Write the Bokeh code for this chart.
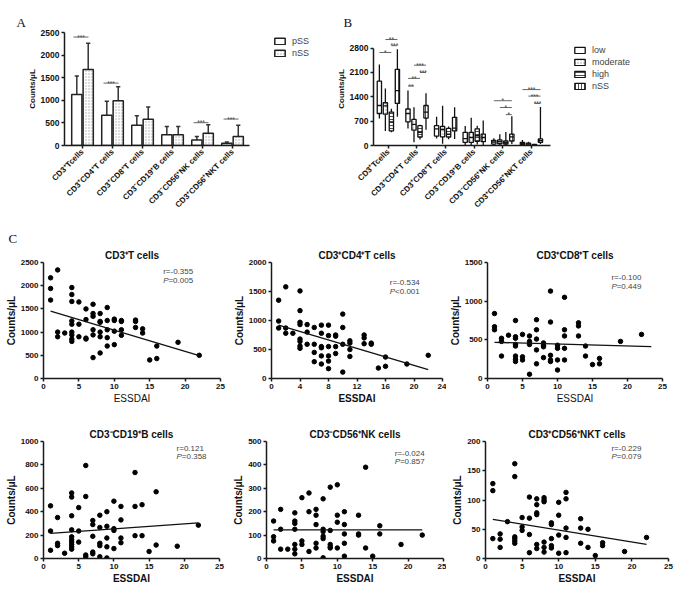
import math
from bokeh.plotting import figure
from bokeh.models import ColumnDataSource, FixedTicker, Label, Legend, LegendItem, Range1d, Title
from bokeh.layouts import column, row
from bokeh.embed import file_html
from bokeh.resources import INLINE

FONT = "Liberation Sans"
SERIF = "Liberation Serif"

# ---------------- data ----------------
cell_types = ["CD3⁺Tcells", "CD3⁺CD4⁺T cells", "CD3⁺CD8⁺T cells",
              "CD3⁻CD19⁺B cells", "CD3⁻CD56⁺NK cells", "CD3⁺CD56⁺NKT cells"]
cat_pos = [1, 2, 3, 4, 5, 6]

# Panel A (mean and top of error bar)
a_pss_mean = [1130, 670, 450, 240, 120, 50]
a_pss_top = [1540, 980, 660, 420, 200, 80]
a_nss_mean = [1680, 990, 580, 240, 270, 200]
a_nss_top = [2260, 1300, 850, 420, 460, 450]
a_sig_cat = [1, 2, 5, 6]
a_sig_y = [2400, 1380, 505, 585]
a_sig_label = ["***", "***", "***", "***"]

# Panel B box plots (lower whisker, q1, median, q3, upper whisker)
b_groups = ["low", "moderate", "high", "nSS"]
b_low = dict(lo=[780, 490, 200, 0, 5, 10], q1=[920, 680, 270, 90, 40, 25],
             med=[1150, 920, 480, 200, 100, 50], q3=[1850, 1050, 570, 380, 150, 90],
             hi=[2330, 1580, 830, 560, 210, 160])
b_moderate = dict(lo=[420, 90, 50, 0, 0, 5], q1=[900, 440, 250, 90, 50, 20],
                  med=[1140, 610, 460, 230, 110, 45], q3=[1230, 750, 550, 380, 160, 70],
                  hi=[1640, 1100, 1140, 800, 320, 110])
b_high = dict(lo=[380, 175, 180, 30, 10, 5], q1=[420, 245, 245, 120, 40, 10],
              med=[680, 380, 330, 280, 80, 20], q3=[960, 570, 490, 480, 130, 30],
              hi=[1060, 600, 550, 570, 390, 40])
b_nss = dict(lo=[830, 450, 190, 0, 40, 40], q1=[1210, 790, 420, 110, 130, 90],
             med=[1580, 960, 500, 230, 250, 140], q3=[2190, 1150, 810, 330, 330, 190],
             hi=[2770, 1500, 1100, 720, 840, 1110])
b_sig_cat = [1, 1, 1, 2, 2, 2, 2, 5, 5, 5, 6, 6, 6]
b_sig_from = [0, 1, 2, 0, 0, 1, 2, 0, 1, 2, 0, 1, 2]
b_sig_to = [2, 3, 3, 2, 1, 3, 3, 3, 3, 3, 3, 3, 3]
b_sig_y = [2675, 3048, 2872, 1930, 1710, 2310, 2100, 1288, 1093, 888, 1608, 1421, 1208]
b_sig_label = ["*", "**", "***", "**", "**", "***", "***", "*", "*", "*", "***", "***", "***"]

# Panel C scatter data: ESSDAI -> counts/uL
c_cd3 = {1: [2170, 1940, 1690], 2: [2340, 1000, 900], 3: [980],
         4: [1960, 1810, 1660, 1240, 1170, 1000, 940, 850, 800], 5: [1650, 1170, 900],
         6: [1500, 1270, 870, 850], 7: [1600, 1400, 1340, 1050, 940, 450],
         8: [1400, 1230, 1210, 1000, 900, 550], 9: [1530, 1250, 1050, 880, 700],
         10: [1280, 1250, 1020, 730], 11: [1250, 1230, 1050, 930], 13: [1260, 1230, 1100],
         14: [1070, 980], 15: [400], 16: [700, 430], 19: [780], 22: [500]}
c_cd4 = {1: [1350, 990, 870], 2: [1580, 870, 780], 3: [780],
         4: [1510, 1170, 970, 930, 680, 640, 560, 520], 5: [930, 800, 590],
         6: [880, 590, 450, 290], 7: [920, 780, 550, 530, 390, 250],
         8: [920, 740, 550, 390, 300, 170], 9: [750, 730, 550, 430],
         10: [1110, 880, 590, 110], 11: [650, 610, 500, 380], 13: [750, 700, 600],
         14: [610, 590], 15: [180], 16: [370, 210], 19: [250], 22: [400]}
c_cd8 = {1: [840, 670, 630], 2: [520, 480, 290], 3: [560],
         4: [750, 540, 520, 440, 420, 290, 250, 220], 5: [570, 280, 240],
         6: [550, 480, 440, 55], 7: [760, 630, 510, 370, 190], 8: [460, 430, 410, 270],
         9: [1130, 730, 300, 240, 220], 10: [430, 390, 240, 110],
         11: [1050, 630, 550, 390, 240], 13: [720, 680, 550], 14: [420, 290], 15: [180],
         16: [260, 190], 19: [480], 22: [570]}
c_cd19 = {1: [450, 235, 70], 2: [350, 130, 110], 3: [45],
          4: [560, 525, 365, 245, 185, 160, 140, 120, 100, 80], 5: [435, 235, 140],
          6: [795, 530, 30, 15], 7: [325, 290, 190, 55, 40], 8: [370, 265, 130, 110, 15],
          9: [400, 275, 175, 100, 5], 10: [490, 255, 240, 85], 11: [445, 330, 175, 135],
          13: [735, 445, 195], 14: [460, 195], 15: [60], 16: [570, 115], 19: [105], 22: [285]}
c_nk = {1: [160, 93, 75], 2: [210, 125, 40], 3: [40], 4: [195, 160, 150, 125, 60, 40, 20],
        5: [260, 75, 60], 6: [280, 200, 30], 7: [210, 185, 145, 65, 45],
        8: [255, 125, 115, 95, 85, 3], 9: [305, 120, 60, 50, 45], 10: [315, 185, 155, 45],
        11: [200, 145, 105, 65, 10], 13: [185, 105, 100], 14: [390, 45], 15: [10],
        16: [140, 105], 19: [60], 22: [100]}
c_nkt = {1: [128, 116, 34], 2: [42, 33, 19], 3: [63], 4: [162, 140, 37, 34, 30, 26],
         5: [70, 54, 48], 6: [105, 69, 41, 10], 7: [102, 92, 78, 75, 24, 17],
         8: [104, 100, 97, 28, 19, 11], 9: [61, 58, 34, 22, 18], 10: [96, 74, 40, 9],
         11: [113, 102, 52, 36, 10], 13: [68, 52, 26], 14: [50, 19], 15: [5], 16: [27, 22],
         19: [12], 22: [36]}
# regression line end points (ESSDAI, counts)
fit_cd3 = ([1, 22], [1450, 495])
fit_cd4 = ([1, 22], [920, 155])
fit_cd8 = ([1, 23.4], [468, 413])
fit_cd19 = ([1, 22], [215, 305])
fit_nk = ([1, 22], [122, 122])
fit_nkt = ([1, 22], [67, 24])
stats_r = ["r=-0.355", "r=-0.534", "r=-0.100", "r=0.121", "r=-0.024", "r=-0.229"]
stats_p = ["=0.005", "<0.001", "=0.449", "=0.358", "=0.857", "=0.079"]


def style_axes(p, tick_size="8px", label_size="10px", label_bold=True):
    for ax in (p.xaxis[0], p.yaxis[0]):
        ax.axis_line_width = 1.5
        ax.axis_line_color = "#1a1a1a"
        ax.major_tick_line_color = "#1a1a1a"
        ax.major_tick_line_width = 1.5
        ax.major_tick_out = 3
        ax.major_tick_in = 0
        ax.minor_tick_line_color = None
        ax.major_label_text_font = FONT
        ax.major_label_text_font_style = "bold"
        ax.major_label_text_font_size = tick_size
        ax.major_label_text_color = "#111111"
        ax.major_label_standoff = 2
        ax.axis_label_text_font = FONT
        ax.axis_label_text_font_style = "bold" if label_bold else "normal"
        ax.axis_label_text_font_size = label_size
        ax.axis_label_text_color = "#111111"
        ax.axis_label_standoff = 1
    p.grid.visible = False
    p.outline_line_color = None


def base_fig(w, h, xr, yr, lb, rb, tb, bb):
    return figure(width=w, height=h, x_range=Range1d(*xr), y_range=Range1d(*yr),
                  min_border_left=lb, min_border_right=rb, min_border_top=tb,
                  min_border_bottom=bb, output_backend="svg", toolbar_location=None)


def letter_title(t, txt, offset, standoff, valign="bottom"):
    t.text = txt
    t.align = "left"
    t.vertical_align = valign
    t.offset = offset
    t.standoff = standoff
    t.text_font = SERIF
    t.text_font_size = "13px"
    t.text_font_style = "normal"
    t.text_color = "#111111"


# ---------------- Panel A ----------------
pA = base_fig(330, 222, (0.4, 9.13), (0, 2500), 64, 4, 32, 77)
style_axes(pA, tick_size="8.5px", label_size="8px")
pA.yaxis.axis_label = "Counts/μL"
pA.yaxis.ticker = FixedTicker(ticks=[0, 500, 1000, 1500, 2000, 2500])
pA.yaxis.bounds = (0, 2500)
pA.xaxis.ticker = FixedTicker(ticks=cat_pos)
pA.xaxis.bounds = (0.4, 6.55)
pA.xaxis.major_label_overrides = {c: n for c, n in zip(cat_pos, cell_types)}
pA.xaxis.major_label_orientation = math.pi / 4
pA.xaxis.major_label_text_font_size = "8px"

for mean, top, off, hatch, name in [(a_pss_mean, a_pss_top, -0.19, None, "pSS"),
                                    (a_nss_mean, a_nss_top, 0.19, ".", "nSS")]:
    xs = [c + off for c in cat_pos]
    src = ColumnDataSource(dict(x=xs, m=mean, t=top,
                                cl=[x - 0.07 for x in xs], cr=[x + 0.07 for x in xs]))
    pA.segment(x0="x", y0="m", x1="x", y1="t", source=src, line_color="#333333", line_width=1.5)
    pA.segment(x0="cl", y0="t", x1="cr", y1="t", source=src, line_color="#333333", line_width=1.5)
    kw = dict(hatch_pattern=hatch, hatch_color="#aaaaaa", hatch_scale=3, hatch_weight=1) if hatch else {}
    r = pA.vbar(x="x", top="m", bottom=0, width=0.34, source=src, fill_color="white",
                line_color="#222222", line_width=1.5, **kw)
    if name == "pSS":
        r_pss = r
    else:
        r_nss = r

sig_src = ColumnDataSource(dict(x0=[c - 0.3 for c in a_sig_cat], x1=[c + 0.2 for c in a_sig_cat],
                                xm=[c - 0.05 for c in a_sig_cat], y=a_sig_y, t=a_sig_label))
pA.segment(x0="x0", y0="y", x1="x1", y1="y", source=sig_src, line_color="#666666", line_width=1)
pA.text(x="xm", y="y", text="t", source=sig_src, text_font_size="6.5px", text_align="center",
        text_baseline="middle", text_color="#444444")

legA = Legend(items=[LegendItem(label="pSS", renderers=[r_pss]),
                     LegendItem(label="nSS", renderers=[r_nss])],
              location=(209, 87), glyph_width=13, glyph_height=8, label_height=10,
              spacing=2, padding=0, margin=0, border_line_color=None,
              background_fill_alpha=0, label_text_font_size="9px", label_standoff=6,
              label_text_font=FONT)
pA.add_layout(legA)
letter_title(pA.title, "A", -48, 2, valign="top")

# ---------------- Panel B ----------------
pB = base_fig(346, 222, (0.48, 10.93), (0, 3250), 43, 4, 24, 76)
style_axes(pB, tick_size="8.5px", label_size="8px")
pB.yaxis.axis_label = "Counts/μL"
pB.yaxis.ticker = FixedTicker(ticks=[0, 700, 1400, 2100, 2800])
pB.yaxis.bounds = (0, 2800)
pB.xaxis.ticker = FixedTicker(ticks=cat_pos)
pB.xaxis.bounds = (0.48, 6.66)
pB.xaxis.major_label_overrides = {c: n for c, n in zip(cat_pos, cell_types)}
pB.xaxis.major_label_orientation = math.pi / 4
pB.xaxis.major_label_text_font_size = "8px"

b_offsets = [-0.315, -0.105, 0.105, 0.315]
b_hatch = [None, ".", "-", "|"]
b_hatch_color = [None, "#999999", "#222222", "#222222"]
bw = 0.15
b_rends = []
for gi, d in enumerate([b_low, b_moderate, b_high, b_nss]):
    xs = [c + b_offsets[gi] for c in cat_pos]
    src = ColumnDataSource(dict(x=xs, xl=[x - bw / 2 for x in xs], xr=[x + bw / 2 for x in xs], **d))
    pB.segment(x0="x", y0="lo", x1="x", y1="q1", source=src, line_color="#111111", line_width=1.3)
    pB.segment(x0="x", y0="q3", x1="x", y1="hi", source=src, line_color="#111111", line_width=1.3)
    kw = dict(hatch_pattern=b_hatch[gi], hatch_color=b_hatch_color[gi], hatch_scale=3,
              hatch_weight=0.8) if b_hatch[gi] else {}
    r = pB.vbar(x="x", bottom="q1", top="q3", width=bw, source=src, fill_color="white",
                line_color="#111111", line_width=1.3, **kw)
    pB.segment(x0="xl", y0="med", x1="xr", y1="med", source=src, line_color="#111111", line_width=1.3)
    b_rends.append(r)

bsig = ColumnDataSource(dict(
    x0=[c + b_offsets[f] for c, f in zip(b_sig_cat, b_sig_from)],
    x1=[c + b_offsets[t] for c, t in zip(b_sig_cat, b_sig_to)],
    xm=[c + (b_offsets[f] + b_offsets[t]) / 2 for c, f, t in zip(b_sig_cat, b_sig_from, b_sig_to)],
    y=b_sig_y, t=b_sig_label))
pB.segment(x0="x0", y0="y", x1="x1", y1="y", source=bsig, line_color="#666666", line_width=1)
pB.text(x="xm", y="y", text="t", source=bsig, text_font_size="6.5px", text_align="center",
        text_baseline="middle", text_color="#444444")

legB = Legend(items=[LegendItem(label=g, renderers=[r]) for g, r in zip(b_groups, b_rends)],
              location=(200, 54), glyph_width=13, glyph_height=8, label_height=10,
              spacing=2, padding=0, margin=0, border_line_color=None,
              background_fill_alpha=0, label_text_font_size="9px", label_standoff=6,
              label_text_font=FONT)
pB.add_layout(legB)
letter_title(pB.title, "B", -30, 2, valign="top")


# ---------------- Panel C ----------------
def scatter_panel(w, h, lb, rb, tb, bb, title, cols, ymax, ystep, xmax, xstep, fit,
                  r_txt, p_txt, tx, ty, xlab_bold, letter=None):
    p = base_fig(w, h, (0, xmax), (0, ymax), lb, rb, tb, bb)
    style_axes(p, tick_size="8px", label_size="10px")
    p.xaxis.axis_label = "ESSDAI"
    p.xaxis.axis_label_text_font_style = "bold" if xlab_bold else "normal"
    p.yaxis.axis_label = "Counts/μL"
    p.xaxis.ticker = FixedTicker(ticks=list(range(0, xmax + 1, xstep)))
    p.yaxis.ticker = FixedTicker(ticks=list(range(0, ymax + 1, ystep)))
    if letter is None:
        t = p.title
        t.text = title
    else:
        letter_title(p.title, letter, -35, 1)
        t = Title(text=title)
        p.add_layout(t, "above")
    t.align = "center"
    t.text_font = FONT
    t.text_font_size = "10px"
    t.text_font_style = "bold"
    t.text_color = "#111111"
    t.standoff = 3
    xs = [x for x, ys in cols.items() for _ in ys]
    ys = [y for ys in cols.values() for y in ys]
    p.scatter(xs, ys, size=4.5, fill_color="black", line_color="black")
    p.line(fit[0], fit[1], line_color="#111111", line_width=1.3)
    p.add_layout(Label(x=tx, y=ty[0], text=r_txt, text_font=FONT, text_font_size="8px",
                       text_color="#444444", text_baseline="middle"))
    p.add_layout(Label(x=tx, y=ty[1], text="P", text_font=FONT, text_font_size="8px",
                       text_font_style="italic", text_color="#444444", text_baseline="middle"))
    p.add_layout(Label(x=tx, y=ty[1], x_offset=5.3, text=p_txt, text_font=FONT,
                       text_font_size="8px", text_color="#444444", text_baseline="middle"))
    return p


c1 = scatter_panel(230, 184, 43, 10, 40, 27, "CD3⁺T cells", c_cd3, 2500, 500, 25, 5, fit_cd3,
                   stats_r[0], stats_p[0], 16.9, (2310, 2120), False, letter="C")
c2 = scatter_panel(216, 184, 37, 4, 40, 27, "CD3⁺CD4⁺T cells", c_cd4, 2000, 500, 24, 4, fit_cd4,
                   stats_r[1], stats_p[1], 16.6, (1650, 1500), True)
c3 = scatter_panel(230, 184, 38, 14, 40, 27, "CD3⁺CD8⁺T cells", c_cd8, 1500, 500, 25, 5, fit_cd8,
                   stats_r[2], stats_p[2], 17.7, (1310, 1195), False)
c4 = scatter_panel(230, 188, 43, 11, 35, 36, "CD3⁻CD19⁺B cells", c_cd19, 1000, 200, 25, 5, fit_cd19,
                   stats_r[3], stats_p[3], 18.9, (940, 870), True)
c5 = scatter_panel(216, 188, 36, 3, 35, 36, "CD3⁻CD56⁺NK cells", c_nk, 500, 100, 25, 5, fit_nk,
                   stats_r[4], stats_p[4], 18.1, (449, 415), True)
c6 = scatter_panel(230, 188, 39, 8, 35, 36, "CD3⁺CD56⁺NKT cells", c_nkt, 200, 50, 25, 5, fit_nkt,
                   stats_r[5], stats_p[5], 17.2, (188, 174), True)

layout = column(row(pA, pB), row(c1, c2, c3), row(c4, c5, c6))
open("out.html", "w").write(file_html(layout, INLINE))
